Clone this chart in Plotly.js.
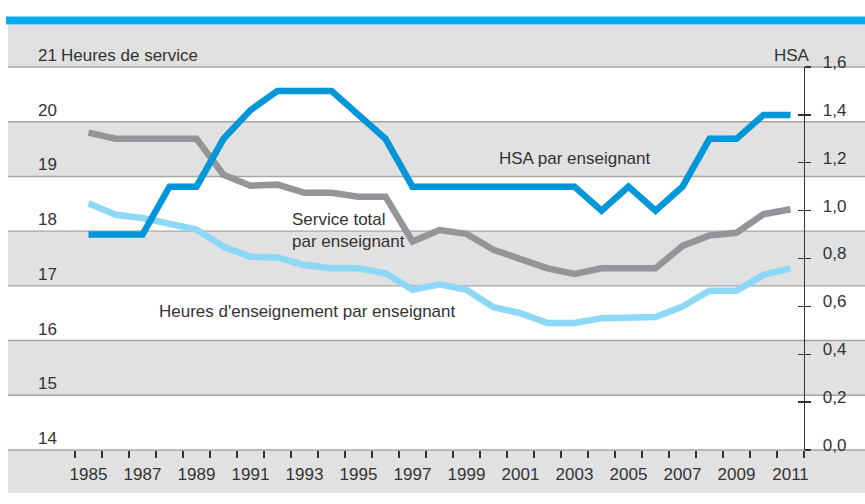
<!DOCTYPE html>
<html>
<head>
<meta charset="utf-8">
<script src="https://cdn.plot.ly/plotly-3.0.1.min.js"></script>
<style>html,body{margin:0;padding:0;background:#fff;}#chart{width:865px;height:504px;}</style>
</head>
<body>
<div id="chart"></div>
<script>
// ---- data ----
const years = [1985,1986,1987,1988,1989,1990,1991,1992,1993,1994,1995,1996,1997,1998,1999,2000,2001,2002,2003,2004,2005,2006,2007,2008,2009,2010,2011];
const hsaPerTeacher = [0.9,0.9,0.9,1.1,1.1,1.3,1.42,1.5,1.5,1.5,1.4,1.3,1.1,1.1,1.1,1.1,1.1,1.1,1.1,1.0,1.1,1.0,1.1,1.3,1.3,1.4,1.4];
const totalService = [19.80,19.69,19.69,19.69,19.69,19.03,18.83,18.85,18.70,18.70,18.63,18.63,17.81,18.02,17.95,17.66,17.50,17.32,17.22,17.32,17.32,17.32,17.73,17.92,17.97,18.31,18.40];
const teachingHours = [18.51,18.30,18.24,18.14,18.03,17.72,17.53,17.52,17.38,17.32,17.32,17.23,16.93,17.03,16.93,16.61,16.50,16.32,16.32,16.41,16.43,16.43,16.62,16.91,16.91,17.20,17.32];
const xTickVals = [1985,1987,1989,1991,1993,1995,1997,1999,2001,2003,2005,2007,2009,2011];
const xTickText = ['1985','1987','1989','1991','1993','1995','1997','1999','2001','2003','2005','2007','2009','2011'];
const yLeftTickVals = [14,15,16,17,18,19,20,21];
const yLeftTickText = ['14','15','16','17','18','19','20','21'];
const yRightTickVals = [0,0.2,0.4,0.6,0.8,1.0,1.2,1.4,1.6];
const yRightTickText = ['0,0','0,2','0,4','0,6','0,8','1,0','1,2','1,4','1,6'];

// ---- geometry helpers (pixel -> paper) ----
const L = 75, R = 804, T = 67, B = 450;
const px = p => (p - L) / (R - L);
const py = p => (B - p) / (B - T);
const yv = v => (v - 14) / 7;

const FONT = '"Liberation Sans", Arial, sans-serif';
const FS = 17;
const TXT = '#333333';

const traces = [
  {x: years, y: teachingHours, type: 'scatter', mode: 'lines', yaxis: 'y', xaxis: 'x',
   line: {color: '#8dd7f7', width: 6.5}, hoverinfo: 'skip', name: 'Heures d\'enseignement par enseignant'},
  {x: years, y: totalService, type: 'scatter', mode: 'lines', yaxis: 'y', xaxis: 'x',
   line: {color: '#939598', width: 6.5}, hoverinfo: 'skip', name: 'Service total par enseignant'},
  {x: years, y: hsaPerTeacher, type: 'scatter', mode: 'lines', yaxis: 'y2', xaxis: 'x',
   line: {color: '#0096d9', width: 6.5}, hoverinfo: 'skip', name: 'HSA par enseignant'},
  // invisible helper to activate the tick-only axes
  {x: [years[0]], y: [0], xaxis: 'x2', yaxis: 'y3', type: 'scatter', mode: 'markers',
   marker: {opacity: 0}, hoverinfo: 'skip', showlegend: false}
];

const shapes = [];
// grey frame
shapes.push({type: 'rect', xref: 'paper', yref: 'paper', x0: px(8), x1: px(865), y0: py(493), y1: py(25),
  fillcolor: '#e1e1e1', line: {width: 0}, layer: 'below'});
// top blue bar
shapes.push({type: 'rect', xref: 'paper', yref: 'paper', x0: px(6), x1: px(865), y0: py(24.5), y1: py(16.5),
  fillcolor: '#00aeef', line: {width: 0}, layer: 'below'});
// white bands
[[14,15],[16,17],[18,19],[20,21]].forEach(b => {
  shapes.push({type: 'rect', xref: 'paper', yref: 'paper', x0: px(8), x1: px(865), y0: yv(b[0]), y1: yv(b[1]),
    fillcolor: '#ffffff', line: {width: 0}, layer: 'below'});
});
// gridlines
yLeftTickVals.forEach(v => {
  shapes.push({type: 'line', xref: 'paper', yref: 'paper', x0: px(8), x1: px(865), y0: yv(v), y1: yv(v),
    line: {color: '#a6a6a6', width: 1.4}, layer: 'below'});
});

const annotations = [
  {text: 'Heures de service', xref: 'paper', yref: 'paper', x: px(59), y: py(55), xanchor: 'left', yanchor: 'middle', showarrow: false},
  {text: 'HSA', xref: 'paper', yref: 'paper', x: px(812), y: py(55), xanchor: 'right', yanchor: 'middle', showarrow: false},
  {text: 'HSA par enseignant', xref: 'paper', yref: 'paper', x: px(497), y: py(158), xanchor: 'left', yanchor: 'middle', showarrow: false},
  {text: 'Service total<br>par enseignant', xref: 'paper', yref: 'paper', x: px(290), y: py(230.5), xanchor: 'left', yanchor: 'middle', align: 'left', showarrow: false},
  {text: 'Heures d\'enseignement par enseignant', xref: 'paper', yref: 'paper', x: px(157), y: py(311), xanchor: 'left', yanchor: 'middle', showarrow: false}
];

const layout = {
  width: 865, height: 504,
  margin: {l: L, r: 865 - R, t: T, b: 504 - B, pad: 0},
  paper_bgcolor: '#ffffff', plot_bgcolor: 'rgba(0,0,0,0)',
  showlegend: false,
  font: {family: FONT, size: FS, color: TXT},
  xaxis: {range: [1984.5, 2011.5], tickvals: xTickVals, ticktext: xTickText, ticks: '', showgrid: false,
          zeroline: false, showline: false, tickfont: {family: FONT, size: FS, color: TXT}, ticklabelstandoff: 12, fixedrange: true},
  xaxis2: {range: [1984.5, 2011.5], overlaying: 'x', anchor: 'y', side: 'bottom', tick0: 1984.5, dtick: 1,
           ticks: 'outside', ticklen: 7, tickwidth: 1.3, tickcolor: TXT, showticklabels: false,
           showgrid: false, zeroline: false, showline: false, fixedrange: true},
  yaxis: {range: [14, 21], tickvals: yLeftTickVals, ticktext: yLeftTickText, ticks: '', showgrid: false,
          zeroline: false, showline: false, ticklabelposition: 'outside top', ticklabelstandoff: 17,
          tickfont: {family: FONT, size: FS, color: TXT}, fixedrange: true},
  yaxis2: {range: [0, 1.6], overlaying: 'y', side: 'right', anchor: 'x', tickvals: yRightTickVals, ticktext: yRightTickText,
           ticks: 'outside', ticklen: 6, tickwidth: 1.3, tickcolor: TXT, showline: true, linecolor: TXT, linewidth: 1.4,
           showgrid: false, zeroline: false, ticklabelshift: -5, ticklabelstandoff: 8,
           tickfont: {family: FONT, size: FS, color: TXT}, fixedrange: true},
  yaxis3: {range: [0, 1.6], overlaying: 'y', side: 'right', anchor: 'x', tickvals: yRightTickVals,
           ticks: 'inside', ticklen: 6, tickwidth: 1.3, tickcolor: TXT, showticklabels: false, showline: false,
           showgrid: false, zeroline: false, fixedrange: true},
  shapes: shapes,
  annotations: annotations
};

Plotly.newPlot('chart', traces, layout, {staticPlot: true, displayModeBar: false});
</script>
</body>
</html>
